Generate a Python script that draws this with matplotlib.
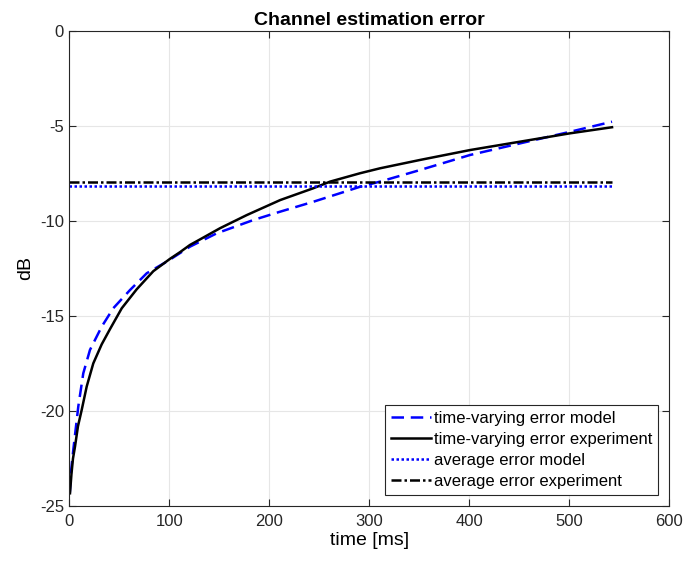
import matplotlib.pyplot as plt

plt.rcParams['font.family'] = ['Liberation Sans', 'DejaVu Sans']
plt.rcParams['axes.unicode_minus'] = False

# Kurven (Zeit in ms, Fehler in dB)
t_model = [0.3, 1.5, 3.8, 8.8, 13.8, 20.5, 32.2, 43.8, 60.6, 77.3, 97.3, 120.6,
           147.3, 184, 210.9, 244, 270.8, 290.8, 310.8, 350.9, 400.9, 450.9, 501, 543]
err_model = [-24.3, -23.2, -22.05, -19.77, -18.02, -16.79, -15.57, -14.6, -13.64,
             -12.76, -12.15, -11.36, -10.66, -9.96, -9.52, -9.0, -8.55, -8.21,
             -7.94, -7.33, -6.54, -5.93, -5.32, -4.79]

t_exp = [0.5, 2, 3.5, 5.5, 8.5, 12.2, 17.2, 23.8, 32.2, 40.5, 52.3, 67.3, 83.9,
         100.6, 110.6, 120.6, 130.6, 150.7, 177.4, 210.9, 244, 260.8, 290.8,
         310.8, 350.9, 400.9, 450.9, 501, 543]
err_exp = [-24.33, -23.3, -22.5, -21.88, -20.8, -19.95, -18.72, -17.5, -16.5,
           -15.7, -14.6, -13.6, -12.65, -12.0, -11.65, -11.27, -10.98, -10.39,
           -9.7, -8.91, -8.29, -7.94, -7.5, -7.24, -6.8, -6.28, -5.84, -5.4, -5.08]

t_avg = [0, 543]
avg_model = [-8.17, -8.17]
avg_exp = [-7.95, -7.95]

fig = plt.figure(figsize=(6.86, 5.63), dpi=100)
ax = fig.add_axes([0.1013, 0.1012, 0.8739, 0.8444])

ax.plot(t_model, err_model, color='blue', linestyle=(0, (5, 2.7)), linewidth=1.8,
        label='time-varying error model')
ax.plot(t_exp, err_exp, color='black', linestyle='-', linewidth=1.8,
        label='time-varying error experiment')
ax.plot(t_avg, avg_model, color='blue', linestyle=(0, (1, 1)), linewidth=1.8,
        label='average error model')
ax.plot(t_avg, avg_exp, color='black', linestyle=(0, (4, 1.2, 1, 1.2)), linewidth=1.8,
        label='average error experiment')

ax.set_xlim(0, 600)
ax.set_ylim(-25, 0)
ax.set_xticks(range(0, 601, 100))
ax.set_yticks(range(-25, 1, 5))
ax.grid(True, color='#e6e6e6', linewidth=0.8)
ax.set_axisbelow(True)
ax.tick_params(direction='in', labelsize=12, length=5, top=True, right=True,
               labeltop=False, labelright=False, colors='#262626')
ax.tick_params(axis='x', pad=6)
ax.tick_params(axis='y', pad=4)
for s in ax.spines.values():
    s.set_color('#262626')
    s.set_linewidth(0.8)

ax.set_title('Channel estimation error', fontsize=14, fontweight='bold', pad=4)
ax.set_xlabel('time [ms]', fontsize=14, labelpad=2)
ax.set_ylabel('dB', fontsize=14, labelpad=4)

leg = ax.legend(loc='lower right', bbox_to_anchor=(0.982, 0.023), fontsize=12,
                frameon=True, fancybox=False, edgecolor='#262626', framealpha=1,
                handlelength=2.4, handletextpad=0.2, borderpad=0.35, labelspacing=0.37,
                borderaxespad=0)
leg.get_frame().set_linewidth(0.8)

fig.savefig('out.png', dpi=100)
